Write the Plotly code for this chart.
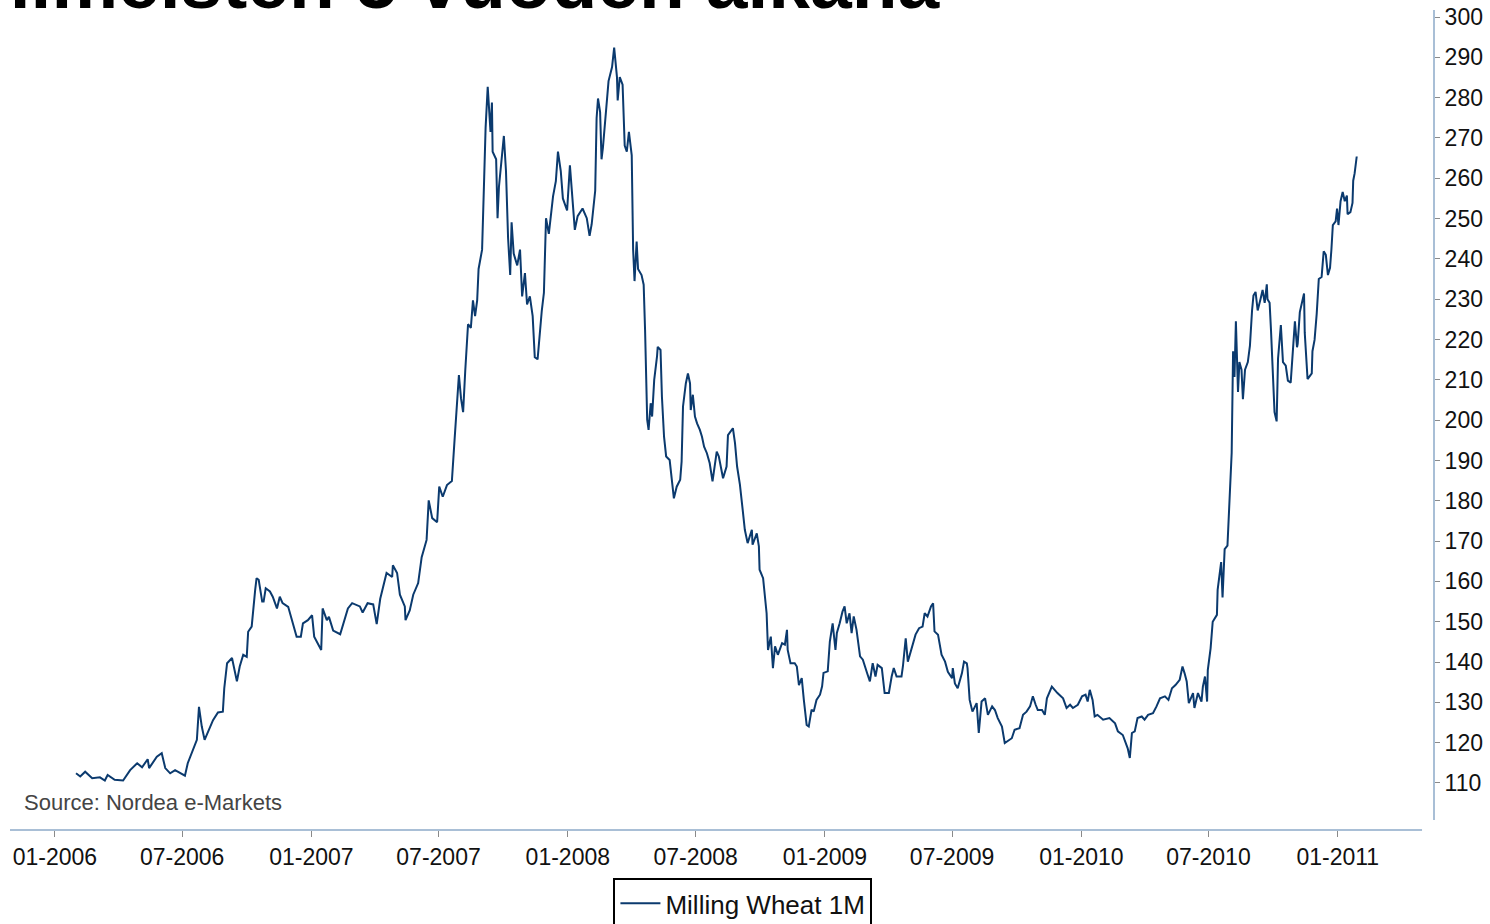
import pandas as pd
import plotly.graph_objects as go

# Days since 2006-01-01 and Milling Wheat 1M price (EUR/t)
day_offset = [
    30, 36, 43, 53, 64, 71, 75, 85, 97, 107, 117, 124, 132, 134, 145, 152, 157, 164, 171, 178,
    185, 189, 196, 202, 205, 209, 213, 221, 225, 232, 239, 241, 245, 252, 256, 259, 263, 268, 273, 275,
    280, 282, 285, 287, 290, 295, 297, 300, 306, 310, 316, 320, 324, 332, 337, 344, 350, 353, 360, 366,
    369, 374, 379, 381, 387, 390, 396, 406,
    413, 417, 423, 434, 438, 445, 453, 458, 463, 468, 472, 480, 481, 487, 491, 498, 499, 505, 510, 517,
    522, 529, 532, 537, 544, 547, 552, 558, 565, 569, 572, 575, 578, 581, 584, 588, 592, 595, 598, 601,
    603, 608, 611, 613, 616, 618, 620, 622, 623, 628, 630, 632, 636, 639, 642, 645, 648, 650, 653, 658,
    662, 665, 669, 672, 676, 680, 683, 687, 693, 696, 699, 703, 709, 713, 716, 720, 723, 729, 733, 736,
    740, 744, 751, 757, 761, 764, 769, 771, 773, 776, 778, 780, 786, 788, 793, 796, 800, 801, 804, 808,
    811, 814, 817, 821, 823, 825, 828, 830, 835, 838,
    840, 841, 843, 845, 848, 850, 853, 857, 858, 862, 864, 867, 870, 875, 878, 881, 885, 890, 892, 894,
    898, 901, 904, 905, 908, 911, 914, 918, 921, 924, 928, 932, 936, 942, 945, 951, 956, 958, 965, 968,
    971, 975, 979, 982, 986, 992, 993, 999, 1002, 1003, 1008, 1010, 1013, 1015, 1019, 1022, 1025, 1029, 1035, 1039,
    1042, 1043, 1047, 1053, 1056, 1059, 1063, 1066, 1070, 1073, 1077, 1080, 1084, 1089, 1092, 1094, 1100, 1103, 1107, 1111,
    1113, 1117, 1121, 1124, 1127, 1131, 1134, 1137, 1141, 1146, 1150, 1156, 1160, 1164, 1168, 1171, 1177, 1181, 1187, 1191,
    1194, 1198, 1205, 1207, 1211, 1214, 1217, 1221, 1225, 1230, 1235, 1238, 1242, 1247, 1250, 1252, 1257,
    1262, 1267, 1271, 1277, 1278, 1281, 1285, 1291, 1294, 1298, 1299, 1302, 1306, 1312, 1315, 1319, 1324, 1328, 1334, 1338,
    1342, 1348, 1352, 1356, 1362, 1366, 1373, 1378, 1383, 1388, 1392, 1396, 1399, 1405, 1409, 1412, 1419, 1423, 1427, 1435,
    1440, 1445, 1449, 1456, 1462, 1467, 1470, 1473, 1477, 1480, 1484, 1492, 1501, 1509, 1513, 1520, 1524, 1527, 1530, 1533,
    1537, 1541, 1547, 1551, 1556, 1563, 1568, 1573, 1580, 1585, 1590, 1595, 1601, 1605, 1608, 1611, 1614, 1620, 1622, 1627,
    1632, 1634, 1637, 1640, 1641, 1645, 1648, 1654, 1655,
    1660, 1662, 1665, 1669, 1672, 1675, 1677, 1679, 1681, 1684, 1686, 1689, 1691, 1694, 1698, 1701, 1704, 1706, 1709, 1712,
    1716, 1719, 1722, 1725, 1726, 1729, 1731, 1733, 1736, 1739, 1741, 1745, 1748, 1752, 1755, 1759, 1762, 1765, 1768, 1769,
    1772, 1776, 1778, 1779, 1782, 1783, 1789, 1790, 1793, 1796, 1799, 1803, 1806, 1809, 1812, 1815, 1817, 1819, 1823, 1825,
    1827, 1830, 1833, 1836, 1839, 1840, 1844, 1847, 1848, 1850, 1853,
]
price = [
    112.4, 111.6, 112.8, 111.2, 111.4, 110.6, 112.0, 110.8, 110.6, 113.2, 114.9, 113.9, 115.9, 113.7, 116.5, 117.4, 113.7, 112.4, 113.2, 112.4,
    111.8, 114.9, 118.2, 120.7, 128.9, 124.0, 120.7, 124.0, 125.6, 127.5, 127.7, 133.5, 139.7, 141.0, 137.2, 135.2, 138.9, 141.8, 141.3, 147.5,
    148.8, 152.9, 157.9, 160.8, 160.4, 155.0, 155.0, 158.3, 157.5, 156.2, 153.3, 156.2, 154.6, 153.7, 150.4, 146.3, 146.3, 149.6, 150.4, 151.6,
    146.3, 144.7, 143.0, 153.3, 150.4, 151.2, 147.8, 146.9,
    150.9, 153.3, 154.6, 153.8, 152.3, 154.6, 154.3, 149.4, 155.7, 159.6, 162.1, 161.1, 164.0, 162.1, 156.7, 153.8, 150.4, 152.8, 156.7, 159.6,
    166.0, 170.3, 180.1, 175.7, 174.7, 183.5, 181.0, 183.9, 184.9, 195.6, 203.9, 211.2, 205.4, 202.0, 212.2, 223.8, 222.9, 229.7, 225.8, 229.7,
    237.5, 242.3, 260.3, 272.5, 282.7, 277.8, 271.5, 278.8, 266.6, 264.7, 250.1, 257.9, 264.2, 270.5, 261.8, 245.2, 236.0, 249.1, 241.3, 238.4,
    242.3, 230.7, 236.5, 228.7, 230.7, 225.8, 215.6, 215.1, 227.2, 231.6, 250.1, 246.2, 255.5, 259.3, 266.6, 261.8, 255.0, 252.0, 263.2, 256.9,
    247.2, 250.6, 252.5, 250.1, 245.7, 248.6, 256.9, 274.9, 279.8, 276.4, 264.7, 267.6, 278.8, 284.1, 287.6, 292.4, 285.1, 279.3, 285.1, 283.2,
    268.1, 266.6, 271.5, 265.7, 242.3, 234.5, 244.3, 237.5, 236.0, 233.6,
    222.4, 216.6, 200.1, 197.6, 204.2, 200.9, 210.0, 215.8, 218.2, 217.4, 205.8, 195.9, 191.0, 190.1, 184.4, 180.6, 183.5, 185.2, 189.7, 203.4,
    209.1, 211.6, 209.1, 202.5, 206.3, 200.9, 199.2, 197.6, 195.9, 193.4, 191.8, 189.3, 184.8, 192.2, 191.0, 185.6, 188.5, 196.3, 198.0, 194.3,
    188.5, 184.0, 177.7, 172.8, 169.5, 172.8, 169.1, 171.9, 168.7, 162.9, 160.8, 157.1, 152.1, 143.0, 146.3, 138.5, 143.9, 141.8, 144.7, 144.3,
    148.0, 143.0, 139.7, 139.7, 138.9, 134.3, 136.0, 130.6, 124.4, 124.0, 128.2, 127.7, 130.6, 131.9, 134.0, 137.3, 137.7, 145.1, 149.6, 143.0,
    147.2, 149.6, 152.5, 153.8, 149.6, 152.1, 147.2, 151.3, 148.0, 141.4, 140.6, 137.3, 135.2, 139.7, 136.4, 139.3, 138.5, 132.3, 132.3, 136.4,
    138.5, 136.4, 136.4, 138.9, 145.9, 140.1, 141.8, 143.9, 146.8, 148.4, 148.8, 152.1, 151.3, 153.8, 154.6, 147.6, 146.8,
    141.8, 140.1, 137.6, 136.0, 138.5, 134.7, 133.5, 137.2, 140.1, 139.7, 138.5, 130.6, 127.7, 129.8, 122.4, 130.2, 131.0, 126.9, 129.0, 128.1,
    126.1, 124.0, 119.9, 120.3, 121.1, 123.2, 123.6, 126.9, 127.7, 129.0, 131.5, 129.4, 128.1, 128.1, 126.9, 131.0, 133.9, 133.1, 132.3, 131.0,
    128.6, 129.4, 128.6, 129.4, 131.5, 131.9, 130.2, 133.1, 130.6, 126.5, 126.9, 125.7, 126.1, 124.8, 122.8, 121.9, 119.9, 118.6, 116.2, 122.4,
    122.8, 126.1, 126.5, 125.7, 126.9, 127.3, 129.0, 131.0, 131.5, 130.6, 133.5, 134.3, 135.6, 138.9, 137.2, 135.2, 129.8, 132.3, 128.6, 132.3,
    130.2, 133.9, 136.4, 130.2, 138.0, 143.4, 150.0, 151.7, 157.9,
    164.8, 156.0, 168.0, 168.9, 182.2, 191.9, 217.1, 210.7, 224.5, 207.0, 214.4, 212.5, 205.2, 212.5, 214.4, 218.5, 227.2, 230.9, 231.8, 227.2,
    230.0, 232.3, 229.1, 233.7, 230.0, 229.1, 222.2, 215.3, 202.0, 199.7, 215.3, 223.6, 214.4, 213.5, 209.8, 209.3, 217.1, 224.5, 218.1, 219.0,
    226.8, 230.0, 231.4, 221.7, 212.5, 210.2, 211.6, 217.1, 219.9, 226.3, 235.0, 235.5, 241.9, 241.0, 236.0, 237.8, 242.4, 248.4, 249.3, 252.5,
    248.4, 254.3, 256.6, 254.3, 255.7, 251.1, 251.6, 253.9, 259.4, 261.2, 265.4,
]

tick_dates = ["2006-01-01", "2006-07-01", "2007-01-01", "2007-07-01", "2008-01-01", "2008-07-01",
              "2009-01-01", "2009-07-01", "2010-01-01", "2010-07-01", "2011-01-01"]
tick_labels = ["01-2006", "07-2006", "01-2007", "07-2007", "01-2008", "07-2008",
               "01-2009", "07-2009", "01-2010", "07-2010", "01-2011"]
y_ticks = list(range(110, 301, 10))

series_name = "Milling Wheat 1M"
title_text = "viimeisten 5 vuoden aikana"
source_text = "Source: Nordea e-Markets"

dates = pd.Timestamp("2006-01-01") + pd.to_timedelta(day_offset, unit="D")

FONT = "Liberation Sans, Arial, sans-serif"
LINE = "#0b3a6e"
AXIS = "#a9bfd6"

fig = go.Figure()
fig.add_trace(go.Scatter(x=dates, y=price, mode="lines", name=series_name,
                         line=dict(color=LINE, width=2)))

fig.update_layout(
    width=1490, height=924,
    margin=dict(l=10, r=56, t=10, b=94, autoexpand=False),
    paper_bgcolor="white", plot_bgcolor="white",
    showlegend=True,
    legend=dict(x=0.5147, y=-0.0585, xanchor="center", yanchor="top",
                orientation="h", bgcolor="white", bordercolor="black", borderwidth=2,
                font=dict(family=FONT, size=26, color="#111111"),
                itemwidth=40),
    xaxis=dict(type="date", range=["2005-10-29", "2011-05-18"],
               tickvals=tick_dates, ticktext=tick_labels,
               showgrid=False, zeroline=False, showline=False, automargin=False,
               ticks="outside", ticklen=6, tickwidth=1, tickcolor="#8a8a8a",
               tickfont=dict(family=FONT, size=23, color="#111111")),
    yaxis=dict(side="right", range=[98.34, 301.74], tickvals=y_ticks,
               showgrid=False, zeroline=False, showline=False, automargin=False,
               ticks="outside", ticklen=5, tickwidth=1, tickcolor="#8a8a8a",
               tickfont=dict(family=FONT, size=23, color="#111111")),
)

# axis lines
fig.add_shape(type="line", xref="paper", yref="paper", x0=0, x1=0.9916, y0=0, y1=0,
              line=dict(color=AXIS, width=2))
fig.add_shape(type="line", xref="paper", yref="paper", x0=1, x1=1, y0=0.0122, y1=1,
              line=dict(color=AXIS, width=2))

fig.add_annotation(text=source_text, xref="paper", yref="paper", x=0.0084, y=0.0341,
                   xanchor="left", yanchor="middle", showarrow=False,
                   font=dict(family=FONT, size=22, color="#444444"))
fig.add_annotation(text="<b>" + title_text + "</b>", xref="paper", yref="paper",
                   x=-0.031, y=0.980, xanchor="left", yanchor="bottom", showarrow=False,
                   font=dict(family=FONT, size=75, color="black"))

fig.write_html("out.html")
